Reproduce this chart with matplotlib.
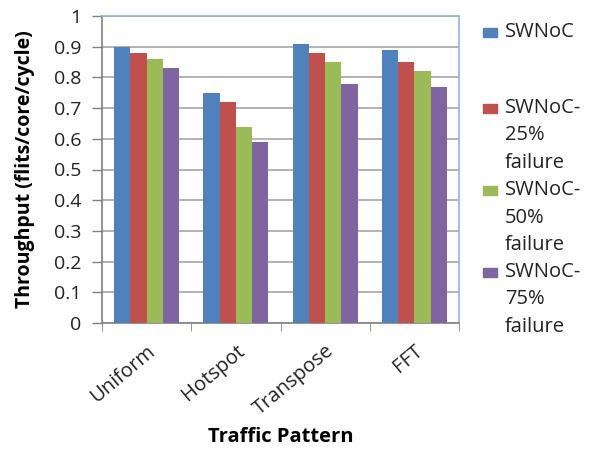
import matplotlib
matplotlib.use("Agg")
import matplotlib.pyplot as plt
import numpy as np
from matplotlib.patches import Rectangle

plt.rcParams['font.family'] = ['Open Sans', 'DejaVu Sans']

categories = ["Uniform", "Hotspot", "Transpose", "FFT"]
series_names = ["SWNoC", "SWNoC-\n25%\nfailure", "SWNoC-\n50%\nfailure", "SWNoC-\n75%\nfailure"]
swnoc = [0.90, 0.75, 0.91, 0.89]
fail25 = [0.88, 0.72, 0.88, 0.85]
fail50 = [0.86, 0.64, 0.85, 0.82]
fail75 = [0.83, 0.59, 0.78, 0.77]
colors = ["#4F81BD", "#C0504D", "#9BBB59", "#8064A2"]
yticks = [0, 0.1, 0.2, 0.3, 0.4, 0.5, 0.6, 0.7, 0.8, 0.9, 1]

W, H = 598, 449
fig = plt.figure(figsize=(W / 100, H / 100), dpi=100)
ax = fig.add_axes([102 / W, 1 - 323 / H, 357 / W, 307 / H])

x = np.arange(len(categories))
bw = 0.182
data = [swnoc, fail25, fail50, fail75]
for i, (vals, c) in enumerate(zip(data, colors)):
    ax.bar(x + (i - 1.5) * bw, vals, bw, color=c, edgecolor='none', zorder=3)

ax.set_xlim(-0.5, len(categories) - 0.5)
ax.set_ylim(0, 1)
ax.set_yticks(yticks)
ax.set_yticklabels([f"{v:g}" for v in yticks], fontsize=14, color='#222222')
ax.yaxis.grid(True, color='#A6A6A6', linewidth=1.2, zorder=0)

ax.set_xticks(x)
ax.set_xticklabels(categories, rotation=40, ha='right', va='top',
                   rotation_mode='anchor', fontsize=14.5, color='#222222')
ax.tick_params(axis='x', length=0, pad=13)
ax.set_xticks(np.arange(-0.5, len(categories)), minor=True)
ax.tick_params(axis='x', which='minor', length=6, color='#808080', direction='out')
ax.tick_params(axis='y', length=7, pad=8, color='#808080', direction='out', width=1)

for s in ['left', 'bottom']:
    ax.spines[s].set_color('#808080')
    ax.spines[s].set_linewidth(1.2)
for s in ['top', 'right']:
    ax.spines[s].set_color('#8EB4E3')
    ax.spines[s].set_linewidth(1.2)

ax.set_ylabel("Throughput (flits/core/cycle)", fontsize=14, fontweight='bold')
ax.yaxis.set_label_coords((25 - 102) / 357, 0.5)
ax.set_xlabel("Traffic Pattern", fontsize=14.5, fontweight='bold')
ax.xaxis.set_label_coords(0.5, -(437 - 323) / 307)
ax.xaxis.label.set_va('center')
ax.yaxis.label.set_va('center')

# legend drawn by hand to keep the wrapped labels aligned
legend_y = [32, 108, 190, 272]
line_gap = 27.5
for name, c, yy in zip(series_names, colors, legend_y):
    fig.patches.append(Rectangle((483 / W, 1 - (yy + 4.5) / H), 14 / W, 9 / H,
                                 transform=fig.transFigure, color=c))
    for k, line in enumerate(name.split("\n")):
        fig.text(505 / W, 1 - (yy + k * line_gap) / H, line, fontsize=14.5,
                 va='center', ha='left', color='#222222')

fig.savefig("out.png", dpi=100)
